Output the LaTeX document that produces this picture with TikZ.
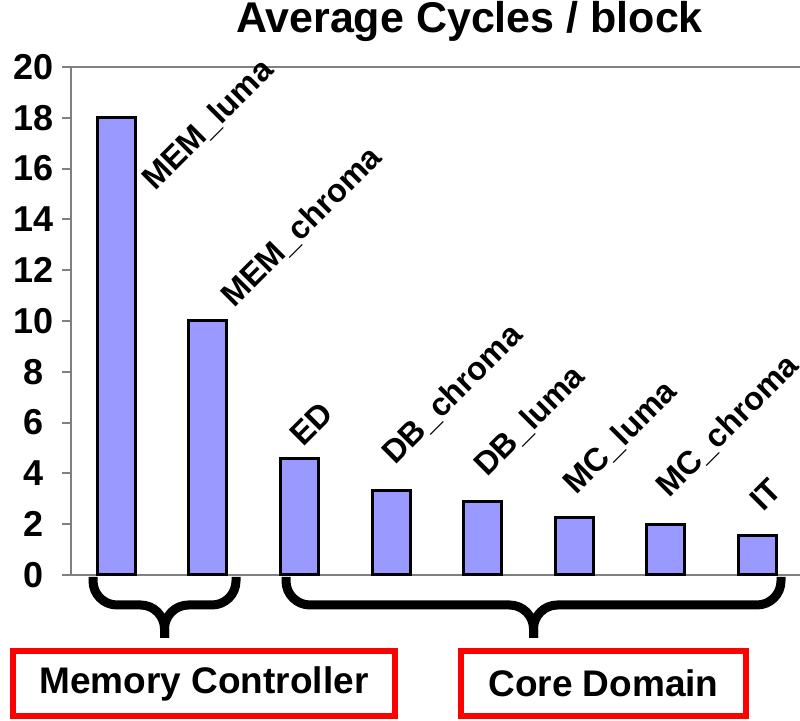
\documentclass[tikz,border=0pt]{standalone}
\usepackage{fontspec}
\setmainfont{Liberation Sans}
\usetikzlibrary{positioning}
\definecolor{barblue}{HTML}{9999FF}

\begin{document}
\begin{tikzpicture}[
      x=0.5pt, y=-0.5pt, font=\bfseries,
      axis/.style={draw=gray, line width=1pt},
      bar/.style={draw=black, fill=barblue, line width=1.5pt},
      lbl/.style={rotate=45, anchor=base west, inner sep=0pt, font=\fontsize{16.2}{18}\selectfont\bfseries},
      tick/.style={inner sep=0pt, font=\fontsize{18}{20}\selectfont\bfseries},
      brace/.style={line width=4.5pt, rounded corners=12pt},
      group/.style={draw=red, line width=3pt, minimum height=32.5pt, inner sep=0pt, font=\fontsize{18.5}{22}\selectfont\bfseries},
    ]
      \useasboundingbox (0,0) rectangle (800,721);

      % title
      \node[anchor=base, inner sep=0pt, font=\fontsize{21.5}{24}\selectfont\bfseries] (title) at (469.5,33) {Average Cycles / block};

      % axes and ticks
      \draw[axis] (70.7,67) -- (800,67);
      \draw[axis] (70.7,67) -- (70.7,575) -- (800,575);
      \foreach \t in {0,2,...,20} {
        \draw[axis] (62,{575-25.4*\t}) -- (70.7,{575-25.4*\t});
        \node[tick] (tick\t) at (34,{575-25.4*\t}) {\t};
      }

      % bars
      \foreach \v [count=\i from 0] in {18,10,4.57,3.31,2.91,2.28,1.97,1.57}
        \draw[bar] ({116.3+91.6*\i-19},575) rectangle ({116.3+91.6*\i+19},{575-25.4*\v});

      % bar labels
      \node[lbl] (memluma)   at (155,192) {MEM\_luma};
      \node[lbl] (memchroma) at (234,309) {MEM\_chroma};
      \node[lbl] (ed)        at (303,448) {ED};
      \node[lbl] (dbchroma)  at (395,466) {DB\_chroma};
      \node[lbl] (dbluma)    at (487,478) {DB\_luma};
      \node[lbl] (mcluma)    at (576,496) {MC\_luma};
      \node[lbl] (mcchroma)  at (669,499) {MC\_chroma};
      \node[lbl] (it)        at (763,513) {IT};

      % groups
      \node[group, minimum width=191pt] (memctl) at (204,683.5) {Memory Controller};
      \node[group, minimum width=142.5pt] (core) at (603.5,683.5) {Core Domain};

      \coordinate (memtip)  at (164.5,638);
      \coordinate (coretip) at (533.5,638);
      \draw[brace] (93,577) |- (memtip |- 0,605) -- (memtip);
      \draw[brace] (236,577) |- (memtip |- 0,605) -- (memtip);
      \draw[brace] (286,577) |- (coretip |- 0,605) -- (coretip);
      \draw[brace] (781,577) |- (coretip |- 0,605) -- (coretip);
    \end{tikzpicture}
\end{document}
